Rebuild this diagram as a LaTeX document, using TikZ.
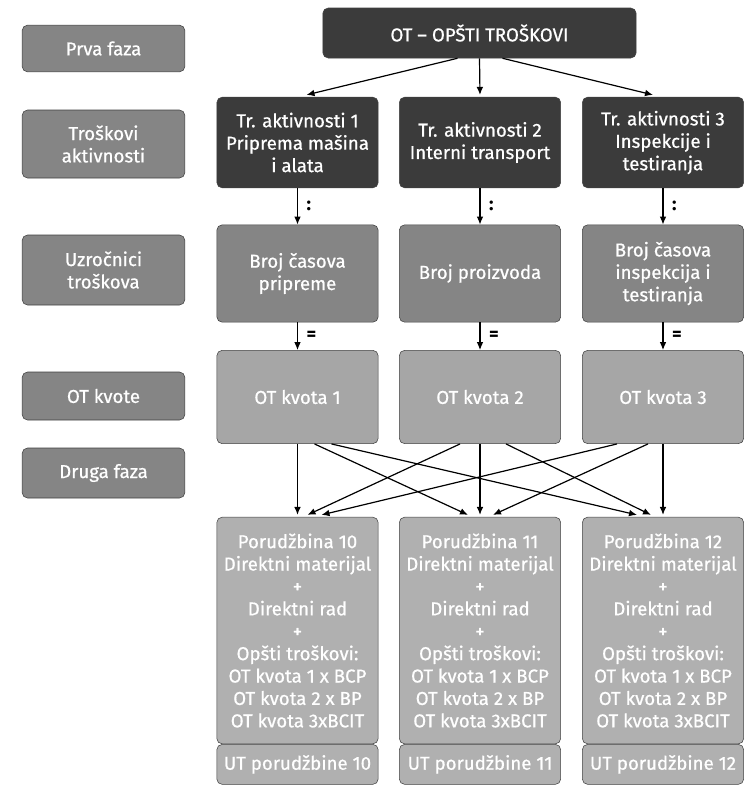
\documentclass[tikz,border=0pt]{standalone}
\usepackage{fontspec}
\setmainfont{Fira Sans}[UprightFeatures={FakeBold=0.7}]
\usetikzlibrary{arrows.meta,positioning}

\begin{document}
\begin{tikzpicture}[x=0.75pt,y=-0.75pt,
    box/.style={draw=black!75, rounded corners=4pt, text=white, align=center,
      inner sep=2pt, font=\fontsize{14pt}{16.8pt}\selectfont},
    fazabox/.style={box, fill=black!48, minimum width=122pt},
    darkbox/.style={box, fill=black!77, minimum width=121pt, minimum height=68pt},
    uzrbox/.style={box, fill=black!48, minimum width=121pt, minimum height=73pt},
    kvotabox/.style={box, fill=black!35, minimum width=121pt, minimum height=70pt},
    ordbox/.style={box, fill=black!31, minimum width=121pt, minimum height=170pt},
    utbox/.style={box, fill=black!31, minimum width=121pt, minimum height=30pt},
    arr/.style={-{Latex[length=6pt,width=5pt]}, line width=0.9pt},
    op/.style={right=3pt, font=\fontsize{14pt}{14pt}\selectfont\bfseries}]
    \useasboundingbox (0,0) rectangle (744,786);

    % --- Faze (levo)
    \node[fazabox, minimum height=35pt]   (prva)  at (103.5,48.5) {Prva faza};
    \node[fazabox, minimum height=51pt]   (trakt) at (103.5,144)  {Troškovi\\aktivnosti};
    \node[fazabox, minimum height=52.5pt] (uzr)   at (103.5,270)  {Uzročnici\\troškova};
    \node[fazabox, minimum height=36pt]   (otkv)  at (103.5,396)  {OT kvote};
    \node[fazabox, minimum height=37.5pt] (druga) at (103.5,473)  {Druga faza};

    % --- Opsti troskovi
    \node[box, fill=black!77, minimum width=235pt, minimum height=37.5pt] (ot) at (479.5,33)
      {OT -- OPŠTI TROŠKOVI};

    % --- Troskovi aktivnosti
    \node[darkbox] (a1) at (297.5,142.5) {Tr. aktivnosti 1\\Priprema mašina\\i alata};
    \node[darkbox] (a2) at (480,142.5)   {Tr. aktivnosti 2\\Interni transport};
    \node[darkbox] (a3) at (663,142.5)   {Tr. aktivnosti 3\\Inspekcije i\\testiranja};

    % --- Uzrocnici
    \node[uzrbox] (b1) at (297.5,273.5) {Broj časova\\pripreme};
    \node[uzrbox] (b2) at (480,273.5)   {Broj proizvoda};
    \node[uzrbox] (b3) at (663,273.5)   {Broj časova\\inspekcija i\\testiranja};

    % --- OT kvote
    \node[kvotabox] (c1) at (297.5,397) {OT kvota 1};
    \node[kvotabox] (c2) at (480,397)   {OT kvota 2};
    \node[kvotabox] (c3) at (663,397)   {OT kvota 3};

    % --- Porudzbine
    \node[ordbox] (d1) at (297.5,630.5) {Porudžbina 10\\Direktni materijal\\+\\Direktni rad\\+\\Opšti troškovi:\\OT kvota 1 x BCP\\OT kvota 2 x BP\\OT kvota 3xBCIT};
    \node[ordbox] (d2) at (480,630.5)   {Porudžbina 11\\Direktni materijal\\+\\Direktni rad\\+\\Opšti troškovi:\\OT kvota 1 x BCP\\OT kvota 2 x BP\\OT kvota 3xBCIT};
    \node[ordbox] (d3) at (663,630.5)   {Porudžbina 12\\Direktni materijal\\+\\Direktni rad\\+\\Opšti troškovi:\\OT kvota 1 x BCP\\OT kvota 2 x BP\\OT kvota 3xBCIT};
    \node[utbox, below=0pt of d1] (u1) {UT porudžbine 10};
    \node[utbox, below=0pt of d2] (u2) {UT porudžbine 11};
    \node[utbox, below=0pt of d3] (u3) {UT porudžbine 12};

    % Strelice
    \draw[arr] ([shift={(-22,0)}]ot.south) -- ([shift={(9,-2)}]a1.north);
    \draw[arr] (ot.south) -- ([shift={(0,-2)}]a2.north);
    \draw[arr] ([shift={(23,0)}]ot.south) -- ([shift={(-10,-2)}]a3.north);

    \foreach \i in {1,2,3} {
      \draw[arr] (a\i.south) -- node[op] {:} (b\i.north);
      \draw[arr] (b\i.south) -- node[op] {=} (c\i.north);
      \draw[arr] (c\i.south) -- ([shift={(0,-2)}]d\i.north);
    }

    \draw[arr] ([shift={(17,0)}]c1.south)  -- ([shift={(-12,-2)}]d2.north);
    \draw[arr] ([shift={(34,0)}]c1.south)  -- ([shift={(-26,-2)}]d3.north);
    \draw[arr] ([shift={(-20,0)}]c2.south) -- ([shift={(10,-2)}]d1.north);
    \draw[arr] ([shift={(26,0)}]c2.south)  -- ([shift={(-12,-2)}]d3.north);
    \draw[arr] ([shift={(-46,0)}]c3.south) -- ([shift={(24,-2)}]d1.north);
    \draw[arr] ([shift={(-15,0)}]c3.south) -- ([shift={(13,-2)}]d2.north);
  \end{tikzpicture}
\end{document}
